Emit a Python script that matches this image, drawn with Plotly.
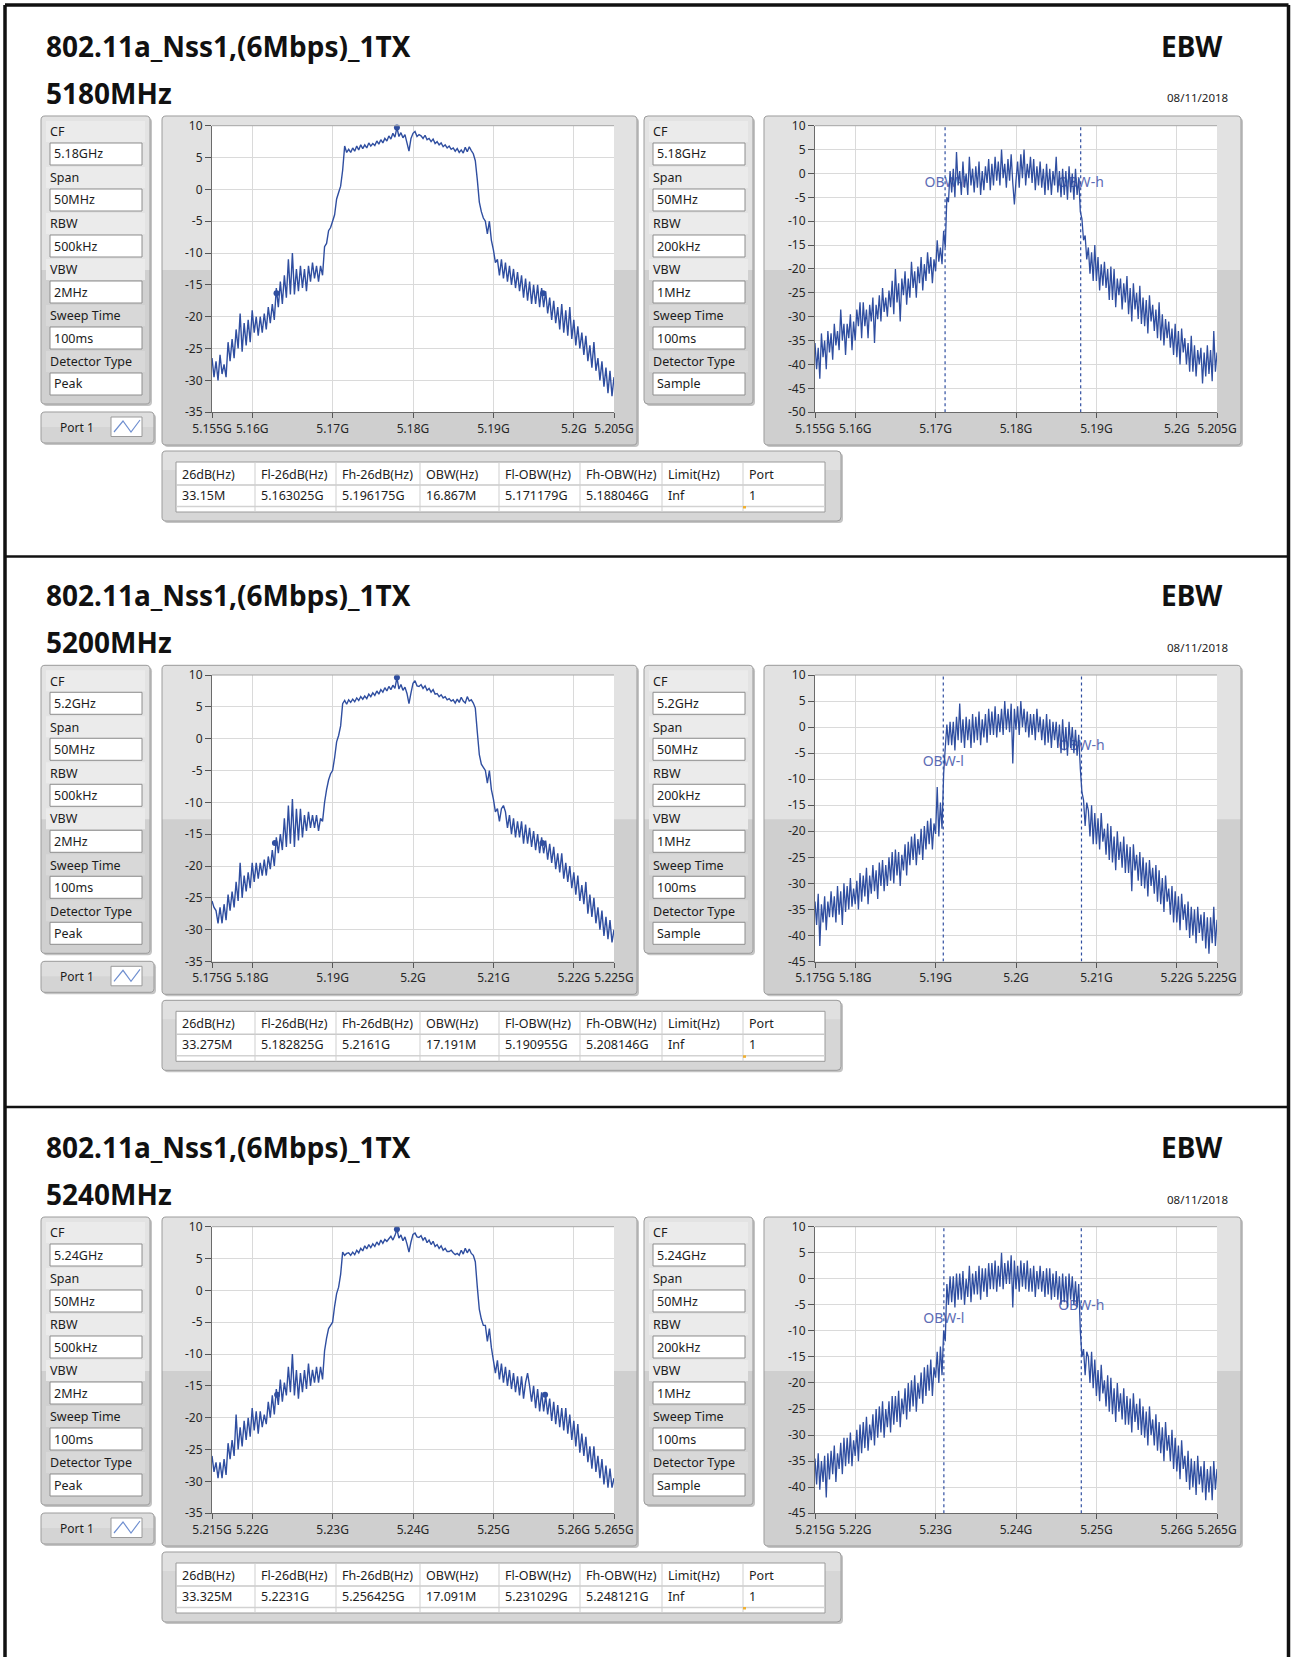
import numpy as np
import plotly.graph_objects as go

W, H = 1292, 1657
FONT = "Noto Sans"

# ---------------- report content ----------------
test_name = "802.11a_Nss1,(6Mbps)_1TX"
test_item = "EBW"
report_date = "08/11/2018"
channels = ["5180MHz", "5200MHz", "5240MHz"]
center_ghz = [5.18, 5.2, 5.24]
span_ghz = 0.05

setting_labels = ["CF", "Span", "RBW", "VBW", "Sweep Time", "Detector Type"]
cf_text = ["5.18GHz", "5.2GHz", "5.24GHz"]
peak_settings = ["50MHz", "500kHz", "2MHz", "100ms", "Peak"]
sample_settings = ["50MHz", "200kHz", "1MHz", "100ms", "Sample"]

table_headers = ["26dB(Hz)", "Fl-26dB(Hz)", "Fh-26dB(Hz)", "OBW(Hz)",
                 "Fl-OBW(Hz)", "Fh-OBW(Hz)", "Limit(Hz)", "Port"]
bw26_mhz = [33.15, 33.275, 33.325]
fl26_ghz = [5.163025, 5.182825, 5.2231]
fh26_ghz = [5.196175, 5.2161, 5.256425]
obw_mhz = [16.867, 17.191, 17.091]
fl_obw_ghz = [5.171179, 5.190955, 5.231029]
fh_obw_ghz = [5.188046, 5.208146, 5.248121]
limit_text = ["Inf", "Inf", "Inf"]
port_no = [1, 1, 1]

peak_level_db = [9.7, 9.6, 9.6]
peak_freq_ghz = [5.178, 5.198, 5.238]
obw_l_label_db = [-2.1, -6.8, -7.9]
obw_h_label_db = [-2.1, -3.7, -5.4]
peak_range_db = [-35, 10]
sample_floor_db = [-50, -45, -45]

# ---------------- spectrum traces (dBm), sweep points across the 50 MHz span ----------------
peak_5180 = [
    -26.5, -29.5, -27.0, -30.0, -26.0, -29.0, -27.5, -29.5, -24.0, -27.0, -23.5, -26.5,
    -22.0, -25.0, -19.5, -25.5, -21.0, -24.5, -20.5, -24.0, -19.0, -22.5, -20.0, -23.0,
    -20.0, -22.5, -19.5, -22.0, -18.5, -21.0, -18.0, -20.5, -15.5, -18.5, -14.5, -18.0,
    -13.5, -17.0, -11.0, -16.5, -10.0, -16.5, -12.5, -16.0, -12.0, -15.5, -12.5, -16.0,
    -12.0, -14.5, -11.5, -14.0, -12.0, -14.5, -12.0, -13.5, -9.0, -8.5, -6.5, -6.0,
    -5.0, -4.0, -1.5, -0.5, 0.5, 3.0, 6.8, 5.8, 6.3, 5.8, 6.5, 6.0,
    6.8, 6.2, 7.0, 6.4, 7.0, 6.5, 7.3, 6.8, 7.2, 6.9, 7.6, 7.1,
    7.8, 7.3, 8.0, 7.6, 8.4, 7.9, 8.8, 8.2, 9.7, 8.3, 8.9, 8.1,
    8.6, 7.3, 6.0, 8.0, 8.8, 9.1, 8.3, 8.6, 8.4, 8.0, 8.5, 7.8,
    8.0, 7.5, 7.9, 7.2, 7.5, 7.0, 7.3, 6.7, 7.0, 6.5, 6.8, 6.3,
    6.5, 6.0, 6.4, 5.8, 6.2, 5.7, 6.6, 5.9, 6.7, 6.1, 5.6, 4.5,
    1.5, -2.0, -3.5, -4.5, -5.0, -7.0, -5.0, -8.0, -9.5, -11.5, -11.0, -13.5,
    -11.0, -14.0, -11.5, -14.5, -12.0, -15.0, -12.5, -15.5, -13.0, -16.0, -13.5, -17.0,
    -14.0, -17.5, -14.5, -18.0, -15.0, -18.0, -15.0, -18.5, -15.5, -18.5, -16.0, -19.5,
    -17.0, -20.5, -17.5, -21.0, -18.5, -22.0, -18.0, -22.5, -19.0, -23.0, -18.5, -23.5,
    -20.5, -24.5, -21.5, -25.0, -22.5, -26.0, -23.0, -27.0, -24.5, -28.0, -24.0, -28.5,
    -26.5, -30.0, -27.0, -31.0, -28.0, -32.0, -28.5, -32.5, -29.5]

peak_5200 = [
    -25.5, -26.5, -27.0, -29.0, -26.5, -29.0, -26.0, -28.5, -24.5, -27.0, -24.0, -26.5,
    -22.5, -25.5, -19.5, -25.0, -21.5, -24.0, -21.0, -23.5, -19.5, -22.5, -19.5, -22.0,
    -19.5, -21.5, -19.0, -21.5, -18.5, -20.5, -17.5, -20.0, -15.5, -18.0, -15.0, -17.5,
    -12.5, -17.0, -10.5, -16.5, -9.5, -17.0, -11.0, -16.0, -11.0, -15.5, -12.0, -14.5,
    -11.5, -14.0, -12.0, -14.0, -12.0, -14.5, -12.5, -13.0, -10.0, -8.0, -6.5, -5.5,
    -5.0, -3.0, -0.5, 0.5, 2.0, 5.5, 6.0, 5.4, 6.1, 5.7, 6.2, 5.8,
    6.4, 6.0, 6.6, 6.2, 6.7, 6.3, 7.0, 6.6, 7.2, 6.8, 7.5, 7.0,
    7.7, 7.3, 8.0, 7.5, 8.2, 7.7, 8.4, 7.9, 9.6, 7.8, 8.5, 7.6,
    8.1, 7.1, 5.5, 7.2, 8.7, 9.1, 8.3, 8.2, 8.5, 7.9, 8.3, 7.6,
    7.9, 7.3, 7.7, 7.0, 7.1, 6.6, 6.9, 6.4, 6.6, 6.1, 6.3, 5.9,
    6.1, 5.6, 6.2, 5.7, 6.5, 5.9, 5.6, 6.6, 5.9, 6.1, 5.6, 4.8,
    1.0, -2.5, -4.0, -4.5, -5.0, -7.0, -5.0, -8.0, -9.5, -11.5, -11.0, -13.0,
    -11.0, -10.5, -11.5, -14.0, -12.0, -15.0, -12.5, -15.5, -13.0, -15.5, -13.0, -16.5,
    -13.5, -16.5, -14.0, -17.0, -14.5, -17.5, -15.0, -18.0, -15.5, -18.0, -16.0, -19.0,
    -16.5, -19.5, -17.0, -20.5, -18.0, -21.0, -18.0, -22.0, -19.5, -22.5, -20.0, -23.5,
    -21.0, -24.5, -21.5, -25.5, -23.0, -26.0, -22.5, -27.5, -24.5, -28.0, -25.0, -29.0,
    -26.5, -30.0, -27.0, -31.0, -28.0, -31.5, -28.5, -32.0, -30.0]

peak_5240 = [
    -26.0, -28.5, -27.0, -29.5, -27.0, -29.5, -26.5, -29.0, -24.0, -26.5, -23.5, -26.0,
    -19.5, -25.0, -21.5, -24.5, -20.5, -23.5, -20.0, -23.0, -18.5, -22.0, -19.0, -22.5,
    -19.0, -21.5, -19.5, -21.0, -17.5, -20.0, -16.5, -19.5, -15.5, -18.0, -14.0, -17.5,
    -14.5, -16.5, -12.0, -16.0, -10.0, -16.5, -12.5, -17.0, -13.0, -16.0, -12.5, -15.5,
    -11.5, -15.0, -12.5, -14.5, -12.0, -14.5, -12.0, -14.0, -9.5, -7.5, -6.0, -5.5,
    -5.0, -2.5, -0.5, 0.5, 2.5, 6.0, 5.5, 5.8, 5.9, 5.5, 6.0, 5.6,
    6.3, 5.9, 6.6, 6.2, 7.0, 6.5, 7.2, 6.7, 7.3, 6.9, 7.6, 7.1,
    7.9, 7.4, 8.0, 7.7, 8.1, 8.5, 7.9, 8.6, 9.6, 8.2, 8.7, 7.8,
    8.4, 7.3, 6.0, 7.6, 8.8, 9.0, 8.4, 8.3, 8.6, 7.9, 8.3, 7.5,
    7.9, 7.2, 7.7, 6.9, 7.2, 6.6, 7.0, 6.3, 6.6, 6.1, 6.1, 6.3,
    5.9, 5.6, 5.8, 5.5, 6.3, 5.7, 6.6, 5.9, 6.5, 5.8, 5.5, 4.5,
    0.5, -3.0, -4.5, -5.5, -5.5, -8.0, -6.0, -9.0, -11.0, -13.0, -11.0, -14.0,
    -11.5, -14.5, -12.0, -15.0, -12.5, -15.5, -13.0, -16.0, -13.5, -16.5, -13.5, -17.0,
    -14.5, -13.0, -15.0, -17.5, -15.0, -18.5, -15.5, -19.0, -16.0, -19.0, -16.5, -19.5,
    -17.0, -20.5, -17.5, -21.0, -18.0, -21.5, -18.5, -22.0, -18.5, -22.5, -19.5, -23.5,
    -20.5, -24.5, -21.0, -25.5, -22.5, -26.0, -23.0, -27.0, -24.5, -28.0, -24.5, -28.5,
    -26.0, -29.5, -26.5, -30.5, -27.5, -31.0, -28.0, -31.0, -29.5]

sample_5180 = [
    -35.5, -41.0, -36.5, -43.0, -33.5, -38.5, -35.0, -41.0, -33.0, -37.5,
    -33.5, -39.0, -31.5, -36.0, -33.0, -37.0, -28.5, -35.0, -31.5, -38.0,
    -31.5, -34.5, -29.5, -37.0, -31.0, -35.0, -28.5, -32.0, -27.0, -34.5,
    -27.0, -32.0, -28.5, -34.5, -27.5, -31.0, -26.0, -35.5, -27.5, -30.5,
    -25.5, -31.0, -24.0, -29.0, -26.0, -30.0, -24.5, -28.0, -22.5, -29.5,
    -20.0, -27.0, -23.0, -31.0, -22.0, -25.5, -20.5, -27.5, -22.0, -26.0,
    -18.5, -24.0, -20.5, -26.0, -19.5, -23.0, -17.5, -24.5, -19.0, -22.5,
    -16.5, -21.0, -17.5, -23.0, -18.0, -20.5, -14.0, -18.5, -15.5, -19.0,
    -12.0, -15.5, -5.0, -6.0, 0.5, -4.0, 1.0, -5.0, 4.5, -2.5,
    0.5, -4.5, 2.5, -3.0, 0.0, -4.5, 3.5, -2.5, 1.0, -4.0,
    1.5, -3.0, 2.5, -4.5, 0.5, -3.5, 1.5, -2.0, 3.0, -3.5,
    2.0, -2.5, 3.5, -1.5, 2.5, -2.5, 5.0, -1.0, 2.0, -3.0,
    3.0, -1.5, 4.0, -2.0, -6.5, -1.5, 2.5, -3.0, 4.0, -1.0,
    5.0, -2.5, 2.0, -1.0, 3.5, -2.0, 3.0, -3.5, 1.5, -2.5,
    2.5, -3.0, 1.0, -4.5, 2.0, -3.5, 1.0, -4.5, 0.5, -2.5,
    3.5, -4.0, 0.5, -5.0, 1.0, -4.5, 0.5, -5.5, 1.5, -4.0,
    0.0, -5.5, 1.0, -4.5, -1.0, -8.0, -9.5, -14.0, -13.0, -18.0,
    -15.5, -21.0, -16.5, -22.5, -15.0, -22.5, -17.5, -24.5, -19.0, -23.5,
    -18.5, -24.0, -20.0, -26.5, -19.5, -26.5, -20.0, -28.0, -22.0, -25.5,
    -22.0, -28.5, -23.0, -27.0, -21.5, -29.5, -24.0, -31.0, -23.0, -28.5,
    -25.0, -30.5, -23.5, -31.5, -26.0, -32.0, -26.5, -33.5, -25.5, -31.0,
    -27.5, -33.0, -28.5, -34.5, -27.0, -35.0, -29.5, -36.0, -30.5, -34.5,
    -31.0, -36.5, -32.5, -38.0, -31.5, -38.5, -33.0, -40.0, -32.5, -37.5,
    -34.5, -40.0, -35.5, -41.5, -34.0, -41.5, -36.0, -42.5, -37.0, -40.0,
    -36.5, -44.0, -37.5, -42.5, -36.0, -42.0, -37.0, -43.5, -33.0, -41.5,
    -37.5]

sample_5200 = [
    -33.5, -38.0, -32.0, -42.0, -34.0, -37.5, -32.5, -39.0, -33.5, -36.5,
    -31.5, -36.5, -32.5, -37.5, -30.5, -36.0, -31.5, -38.0, -30.0, -35.5,
    -30.5, -35.0, -29.0, -34.5, -31.0, -34.0, -29.5, -35.0, -28.0, -33.5,
    -28.5, -32.5, -27.0, -34.0, -28.5, -32.0, -26.5, -31.5, -27.5, -33.0,
    -26.0, -30.5, -25.5, -31.5, -26.5, -30.5, -25.0, -29.5, -24.0, -30.0,
    -23.5, -28.5, -24.0, -30.5, -24.5, -27.5, -22.5, -28.5, -22.0, -26.5,
    -21.0, -25.5, -20.5, -26.5, -21.5, -24.5, -19.5, -25.5, -19.0, -23.5,
    -18.0, -22.5, -17.5, -23.5, -18.5, -20.5, -11.5, -21.0, -14.5, -19.5,
    -9.0, -4.0, 0.5, -3.5, 1.0, -3.5, 1.0, -4.5, 2.0, -2.5,
    4.5, -3.0, 1.5, -4.0, 2.0, -2.5, 1.5, -4.0, 2.5, -3.0,
    2.0, -2.5, 3.0, -3.5, 1.5, -2.0, 2.5, -3.0, 3.5, -1.5,
    3.0, -1.5, 4.0, -2.0, 2.5, -1.0, 3.5, -1.5, 5.0, -0.5,
    3.5, -1.0, 4.5, -7.0, 3.5, -0.5, 4.0, -1.5, 5.0, 0.0,
    3.5, -1.0, 3.0, -2.0, 2.5, -1.5, 2.5, -2.5, 3.5, -1.0,
    2.0, -2.5, 1.5, -3.5, 2.5, -3.0, 1.5, -4.0, 1.0, -2.5,
    1.0, -4.0, 0.5, -5.0, 1.5, -4.5, 0.0, -5.5, 1.0, -4.0,
    0.0, -5.0, -0.5, -5.5, -1.5, -8.0, -12.5, -14.0, -19.0, -14.5,
    -16.0, -21.0, -15.0, -22.5, -16.5, -22.5, -17.5, -23.5, -16.5, -22.0,
    -19.5, -24.5, -18.5, -25.5, -19.0, -26.0, -21.0, -27.5, -20.0, -25.5,
    -22.0, -27.0, -21.0, -28.0, -22.5, -28.0, -23.0, -31.5, -22.5, -27.5,
    -24.5, -29.5, -24.0, -30.5, -25.0, -31.0, -26.0, -32.5, -25.5, -30.5,
    -27.0, -32.0, -26.5, -33.5, -27.5, -34.0, -29.0, -35.5, -28.5, -33.5,
    -31.0, -36.0, -30.5, -37.5, -31.5, -37.5, -32.5, -39.0, -32.0, -37.0,
    -34.0, -39.0, -33.5, -40.5, -34.5, -40.0, -35.0, -41.5, -34.5, -39.5,
    -36.0, -41.0, -35.5, -42.5, -36.5, -43.5, -36.5, -41.5, -34.5, -42.0,
    -37.0]

sample_5240 = [
    -34.5, -39.5, -33.5, -40.5, -35.0, -39.0, -34.0, -42.0, -33.5, -38.5,
    -33.0, -37.5, -32.0, -39.0, -33.5, -36.5, -31.5, -37.5, -30.5, -36.0,
    -30.5, -35.5, -29.5, -36.0, -31.0, -34.0, -29.0, -35.0, -28.0, -33.5,
    -27.5, -32.5, -26.5, -33.0, -28.0, -31.0, -26.0, -32.0, -25.0, -30.5,
    -24.5, -29.5, -23.5, -30.5, -25.0, -28.5, -23.5, -29.5, -22.5, -28.0,
    -22.5, -27.5, -21.5, -28.5, -23.0, -26.0, -21.0, -27.0, -20.0, -25.5,
    -19.5, -24.5, -18.5, -25.5, -20.0, -23.0, -18.0, -24.0, -17.0, -22.5,
    -16.5, -21.5, -15.5, -22.5, -17.0, -19.0, -14.0, -20.0, -13.0, -18.5,
    -10.0, -12.0, -1.0, -5.0, 0.5, -4.5, 0.5, -5.5, 1.0, -4.0,
    1.0, -4.0, 1.5, -5.0, 0.0, -3.5, 2.5, -4.5, 1.0, -3.0,
    1.5, -3.0, 2.5, -4.0, 2.0, -2.5, 2.0, -3.5, 3.0, -2.0,
    3.0, -2.0, 3.5, -2.5, 2.5, -1.5, 5.0, -2.0, 3.0, -1.0,
    3.5, -1.0, 4.5, -5.5, 3.5, -2.0, 2.5, -2.5, 3.5, -1.5,
    3.0, -2.0, 3.5, -2.5, 2.0, -2.5, 2.5, -3.5, 1.5, -2.0,
    2.5, -2.5, 1.5, -3.5, 2.0, -3.0, 2.0, -4.0, 1.0, -3.5,
    1.5, -4.0, 0.5, -5.0, 1.0, -4.5, 0.5, -5.5, 1.0, -4.0,
    0.5, -5.0, -0.5, -5.5, -1.0, -10.0, -15.0, -13.5, -18.5, -14.0,
    -15.0, -20.0, -14.0, -21.0, -15.5, -22.5, -17.5, -23.5, -16.5, -22.0,
    -19.5, -24.5, -18.5, -25.5, -19.0, -26.0, -21.0, -27.5, -20.0, -25.5,
    -22.0, -27.0, -21.0, -28.0, -22.5, -28.0, -23.0, -29.5, -22.0, -27.5,
    -24.0, -29.0, -23.0, -30.0, -24.5, -30.5, -25.5, -32.0, -24.5, -30.0,
    -27.0, -32.0, -26.0, -33.0, -27.5, -33.5, -28.5, -35.0, -27.5, -33.0,
    -30.0, -35.0, -29.0, -36.5, -30.5, -37.0, -32.0, -38.5, -31.0, -36.5,
    -34.0, -39.0, -33.0, -40.5, -34.5, -40.0, -35.0, -41.5, -34.0, -39.5,
    -36.0, -41.0, -35.0, -42.5, -36.5, -41.0, -36.0, -42.5, -35.0, -40.5,
    -36.5]

peak_traces = [peak_5180, peak_5200, peak_5240]
sample_traces = [sample_5180, sample_5200, sample_5240]

# ---------------- geometry helpers (pixel -> paper) ----------------
def X(x):
    return x / W


def Y(y):
    return 1 - y / H


def pt(x, y):
    return f"{X(x):.6f},{Y(y):.6f}"


def round_path(x0, y0, x1, y1, r, top_only=False):
    if top_only:
        return (f"M{pt(x0, y1)} L{pt(x0, y0 + r)} Q{pt(x0, y0)} {pt(x0 + r, y0)} "
                f"L{pt(x1 - r, y0)} Q{pt(x1, y0)} {pt(x1, y0 + r)} L{pt(x1, y1)} Z")
    return (f"M{pt(x0 + r, y0)} L{pt(x1 - r, y0)} Q{pt(x1, y0)} {pt(x1, y0 + r)} "
            f"L{pt(x1, y1 - r)} Q{pt(x1, y1)} {pt(x1 - r, y1)} L{pt(x0 + r, y1)} "
            f"Q{pt(x0, y1)} {pt(x0, y1 - r)} L{pt(x0, y0 + r)} Q{pt(x0, y0)} {pt(x0 + r, y0)} Z")


NONE = "rgba(0,0,0,0)"
shapes = []
annotations = []


def add_path(d, fill, line=None, lw=1, layer="below"):
    shapes.append(dict(type="path", path=d, xref="paper", yref="paper", fillcolor=fill,
                       line=dict(color=line or NONE, width=lw if line else 0), layer=layer))


def add_rect(x0, y0, x1, y1, fill=None, line=None, lw=1, layer="below"):
    shapes.append(dict(type="rect", xref="paper", yref="paper", x0=X(x0), x1=X(x1),
                       y0=Y(y1), y1=Y(y0), fillcolor=fill or NONE,
                       line=dict(color=line or NONE, width=lw if line else 0), layer=layer))


def add_line(x0, y0, x1, y1, color, w=1, layer="below"):
    shapes.append(dict(type="line", xref="paper", yref="paper", x0=X(x0), x1=X(x1),
                       y0=Y(y0), y1=Y(y1), line=dict(color=color, width=w), layer=layer))


def add_text(x, y, s, size=12.5, color="#1c1c1c", anchor="left", bold=False):
    annotations.append(dict(x=X(x), y=Y(y), xref="paper", yref="paper", showarrow=False,
                            text=f"<b>{s}</b>" if bold else s, xanchor=anchor,
                            yanchor="middle", borderpad=0,
                            font=dict(family=FONT, size=size, color=color)))


def panel(x0, y0, x1, y1, split=None, upper="#e3e3e3", lower="#d0d0d0"):
    add_path(round_path(x0 + 2, y0 + 2, x1 + 2, y1 + 2, 4), "#c4c4c4")
    add_path(round_path(x0, y0, x1, y1, 4), lower)
    if split is not None and split > y0:
        add_path(round_path(x0, y0, x1, min(split, y1), 4, top_only=True), upper)
    add_path(round_path(x0, y0, x1, y1, 4), NONE, "#9c9c9c", 1)


# ---------------- page frame (open at the bottom) ----------------
add_line(5, 5, 1288.5, 5, "#111111", 3.5)
add_line(5, 5, 5, 1657, "#111111", 3.5)
add_line(1288.5, 5, 1288.5, 1657, "#111111", 3.5)
for ysep in [556.5, 1107.0]:
    add_line(5, ysep, 1288.5, ysep, "#111111", 2.5)

section_dy = [0.0, 549.3, 1101.0]
PLOT_TOP, PLOT_H = 125.7, 286.5
LEFT_PLOT = (212, 614)
RIGHT_PLOT = (815, 1217)
SPLIT = 270
TABLE_COLS = [176, 255, 336, 420, 499, 580, 662, 743, 825]
BLUE = "#2f4ea0"

fig = go.Figure()
layout_axes = {}

for s in range(3):
    d = section_dy[s]
    cf = center_ghz[s]
    f0, f1 = cf - span_ghz / 2, cf + span_ghz / 2

    # headings
    add_text(45, 46 + d, test_name, size=28, color="#111111", bold=True)
    add_text(45, 93 + d, channels[s], size=28, color="#111111", bold=True)
    add_text(1224, 46 + d, test_item, size=28, color="#111111", anchor="right", bold=True)
    add_text(1229, 98 + d, report_date, size=11.5, color="#222222", anchor="right")

    # settings panels (peak / sample)
    for px0, vals in [(41, [cf_text[s]] + peak_settings), (644, [cf_text[s]] + sample_settings)]:
        panel(px0, 116 + d, px0 + 109, 404 + d, split=SPLIT + d)
        for k, (lab, val) in enumerate(zip(setting_labels, vals)):
            band_top = 121 + 46 * k + d
            add_rect(px0 + 5, band_top, px0 + 104, band_top + 21,
                     fill="#ebebeb" if band_top + 10 < SPLIT + d else "#d8d8d8")
            add_text(px0 + 8, 131.7 + 46 * k + d, lab, size=12.5)
            add_rect(px0 + 9, 143 + 46 * k + d, px0 + 101, 165 + 46 * k + d,
                     fill="#ffffff", line="#8e8e8e")
            add_text(px0 + 12, 154 + 46 * k + d, val, size=12.5)

    # port selector
    panel(41, 412 + d, 154, 443 + d, upper="#dedede", lower="#d4d4d4", split=427 + d)
    add_text(59, 427.5 + d, "Port 1", size=12)
    add_rect(111, 417 + d, 142, 436.5 + d, fill="#ffffff", line="#9a9a9a")
    add_path(f"M{pt(114, 432 + d)} L{pt(123, 421 + d)} L{pt(131, 432 + d)} L{pt(140, 420 + d)}",
             NONE, "#6f8fd0", 1.2)

    # chart panels + white plot areas
    for cx0, cx1, (plx0, plx1) in [(162, 637, LEFT_PLOT), (764, 1241, RIGHT_PLOT)]:
        panel(cx0, 116 + d, cx1, 445 + d, split=SPLIT + d, upper="#e2e2e2", lower="#cfcfcf")
        add_rect(plx0, PLOT_TOP + d, plx1, PLOT_TOP + PLOT_H + d, fill="#ffffff")
        add_line(plx0, PLOT_TOP + d, plx1, PLOT_TOP + d, "#a6a6a6", 1, layer="above")

    # results table
    panel(162, 451 + d, 841, 521 + d, split=470 + d, upper="#e0e0e0", lower="#d6d6d6")
    add_rect(TABLE_COLS[0], 462 + d, TABLE_COLS[-1], 512 + d, fill="#ffffff", line="#9a9a9a")
    add_line(TABLE_COLS[0], 485 + d, TABLE_COLS[-1], 485 + d, "#c9c9c9", 1.5)
    add_line(TABLE_COLS[0], 506.5 + d, TABLE_COLS[-1], 506.5 + d, "#d2d2d2", 1.5)
    for cx in TABLE_COLS[1:-1]:
        add_line(cx, 462 + d, cx, 512 + d, "#cfcfcf", 1)
    add_rect(743, 506 + d, 746, 508.5 + d, fill="#f0b030")
    row = [f"{bw26_mhz[s]}M", f"{fl26_ghz[s]}G", f"{fh26_ghz[s]}G", f"{obw_mhz[s]}M",
           f"{fl_obw_ghz[s]}G", f"{fh_obw_ghz[s]}G", limit_text[s], str(port_no[s])]
    for c in range(8):
        add_text(TABLE_COLS[c] + 5, 474 + d, table_headers[c], size=12.5)
        add_text(TABLE_COLS[c] + 5, 495.5 + d, row[c], size=12.5)

    # axes
    xt = [f0, cf - 0.02, cf - 0.01, cf, cf + 0.01, cf + 0.02, f1]
    xtt = [f"{round(v, 3):g}G" for v in xt]
    ydom = [Y(PLOT_TOP + PLOT_H + d), Y(PLOT_TOP + d)]
    for side, (plx0, plx1), yr in [(0, LEFT_PLOT, peak_range_db),
                                     (1, RIGHT_PLOT, [sample_floor_db[s], 10])]:
        n = 2 * s + 1 + side
        suffix = "" if n == 1 else str(n)
        yt = list(range(yr[0], yr[1] + 1, 5))
        common = dict(ticks="outside", tickcolor="#555555", tickwidth=1, showgrid=True,
                      gridcolor="#dadada", gridwidth=1, showline=True, linecolor="#6b6b6b",
                      linewidth=1, zeroline=False, fixedrange=True, automargin=False,
                      tickfont=dict(family=FONT, size=12, color="#262626"))
        layout_axes[f"xaxis{suffix}"] = dict(domain=[X(plx0), X(plx1)], range=[f0, f1],
                                             anchor=f"y{suffix}", tickvals=xt, ticktext=xtt,
                                             tickangle=0, ticklen=5, **common)
        layout_axes[f"yaxis{suffix}"] = dict(domain=ydom, range=yr, anchor=f"x{suffix}",
                                             tickvals=yt, ticktext=[str(v) for v in yt],
                                             ticklen=6, **common)

        xa, ya = f"x{suffix}", f"y{suffix}"
        if side == 0:
            vals = peak_traces[s]
            freqs = np.linspace(f0, f1, len(vals))
            fig.add_trace(go.Scatter(x=freqs, y=vals, mode="lines", xaxis=xa, yaxis=ya,
                                     line=dict(color=BLUE, width=1.4, simplify=False),
                                     hoverinfo="skip"))
            pk = peak_level_db[s]
            fig.add_trace(go.Scatter(x=[fl26_ghz[s], peak_freq_ghz[s], fh26_ghz[s]],
                                     y=[pk - 26, pk, pk - 26], mode="markers", xaxis=xa,
                                     yaxis=ya, marker=dict(color=BLUE, size=6),
                                     cliponaxis=False, hoverinfo="skip"))
        else:
            fig.add_trace(go.Scatter(x=[fl_obw_ghz[s], fh_obw_ghz[s]],
                                     y=[obw_l_label_db[s], obw_h_label_db[s]],
                                     text=["OBW-l", "OBW-h"], mode="text", xaxis=xa, yaxis=ya,
                                     textfont=dict(family=FONT, size=14, color="#5d6cb5"),
                                     hoverinfo="skip"))
            for fo in [fl_obw_ghz[s], fh_obw_ghz[s]]:
                fig.add_trace(go.Scatter(x=[fo, fo], y=yr, mode="lines", xaxis=xa, yaxis=ya,
                                         line=dict(color=BLUE, width=1.2, dash="3px,3px"),
                                         hoverinfo="skip"))
            vals = sample_traces[s]
            freqs = np.linspace(f0, f1, len(vals))
            fig.add_trace(go.Scatter(x=freqs, y=vals, mode="lines", xaxis=xa, yaxis=ya,
                                     line=dict(color=BLUE, width=1.3, simplify=False),
                                     hoverinfo="skip"))

fig.update_layout(
    template="none",
    width=W, height=H, margin=dict(l=0, r=0, t=0, b=0, pad=0, autoexpand=False),
    paper_bgcolor="#ffffff", plot_bgcolor="rgba(0,0,0,0)",
    showlegend=False, shapes=shapes, annotations=annotations,
    font=dict(family=FONT), **layout_axes,
)

fig.write_html("out.html")
